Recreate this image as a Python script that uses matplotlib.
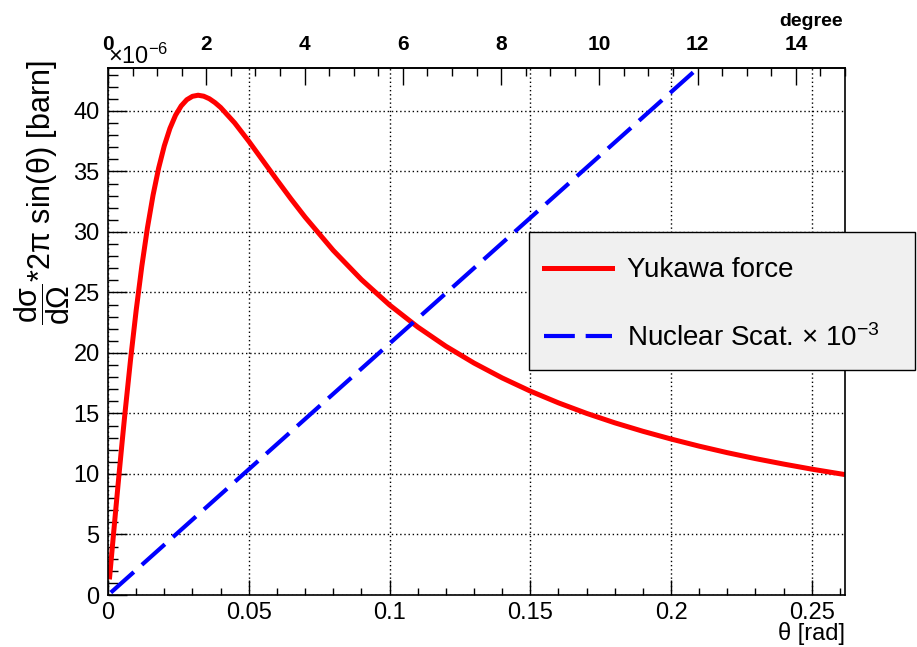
import numpy as np
import matplotlib
matplotlib.use('Agg')
import matplotlib.pyplot as plt
from matplotlib.patches import Rectangle
from matplotlib.lines import Line2D
from matplotlib.ticker import MultipleLocator

plt.rcParams['font.family'] = ['Liberation Sans', 'DejaVu Sans']
plt.rcParams['mathtext.fontset'] = 'custom'
plt.rcParams['mathtext.rm'] = 'Liberation Sans'
plt.rcParams['mathtext.it'] = 'Liberation Sans:italic'
plt.rcParams['mathtext.bf'] = 'Liberation Sans:bold'

# Datos (y en unidades de 1e-6 barn)
theta_yukawa = [0.0005, 0.001, 0.002, 0.003, 0.004, 0.005, 0.006, 0.008, 0.010,
                0.012, 0.014, 0.016, 0.018, 0.020, 0.022, 0.024, 0.026, 0.028,
                0.030, 0.032, 0.034, 0.036, 0.038, 0.040, 0.045, 0.050, 0.055,
                0.060, 0.065, 0.070, 0.080, 0.090, 0.100, 0.110, 0.120, 0.130,
                0.140, 0.150, 0.160, 0.170, 0.180, 0.190, 0.200, 0.210, 0.220,
                0.230, 0.240, 0.250, 0.2618]
yukawa = [1.29, 2.58, 5.14, 7.68, 10.17, 12.60, 14.96, 19.43, 23.51,
          27.15, 30.33, 33.04, 35.29, 37.12, 38.56, 39.65, 40.42, 40.93,
          41.21, 41.30, 41.22, 41.01, 40.69, 40.29, 39.01, 37.50, 35.90,
          34.30, 32.73, 31.23, 28.48, 26.07, 23.97, 22.15, 20.56, 19.17,
          17.94, 16.85, 15.88, 15.01, 14.23, 13.53, 12.89, 12.30, 11.76,
          11.27, 10.82, 10.40, 9.95]

theta_nuclear = [0.001, 0.2618]
nuclear = [0.2, 54.4]

x_ticks = [0, 0.05, 0.1, 0.15, 0.2, 0.25]
x_labels = ['0', '0.05', '0.1', '0.15', '0.2', '0.25']
y_ticks = [0, 5, 10, 15, 20, 25, 30, 35, 40]
deg_ticks = [0, 2, 4, 6, 8, 10, 12, 14]

W, H = 917, 647
fig = plt.figure(figsize=(W / 100, H / 100), dpi=100)
ax = fig.add_axes([108 / W, 1 - 595 / H, (845 - 108) / W, (595 - 68) / H])

ax.plot(theta_yukawa, yukawa, color='#ff0000', lw=3.6, solid_capstyle='butt')
ax.plot(theta_nuclear, nuclear, color='#0000ff', lw=3.0, linestyle=(0, (7.4, 2.6)))

ax.set_xlim(0, np.radians(15))
ax.set_ylim(0, 43.55)
ax.set_xticks(x_ticks)
ax.set_xticklabels(x_labels)
ax.set_yticks(y_ticks)
ax.xaxis.set_minor_locator(MultipleLocator(0.01))
ax.yaxis.set_minor_locator(MultipleLocator(1))
ax.grid(True, which='major', color='black', lw=1.0, linestyle=(0, (1, 2)))

ax.tick_params(axis='x', which='major', direction='in', length=11, width=1,
               labelsize=17, pad=5, top=False)
ax.tick_params(axis='x', which='minor', direction='in', length=5, width=1, top=False)
ax.tick_params(axis='y', which='major', direction='in', length=14, width=1,
               labelsize=17, pad=6, right=False)
ax.tick_params(axis='y', which='minor', direction='in', length=7, width=1, right=False)
for s in ax.spines.values():
    s.set_linewidth(1.2)

# eje de arriba en grados
sec = ax.secondary_xaxis('top', functions=(np.degrees, np.radians))
sec.set_xticks(deg_ticks)
sec.xaxis.set_minor_locator(MultipleLocator(0.5))
sec.tick_params(which='major', direction='in', length=12, width=1, labelsize=15, pad=10)
sec.tick_params(which='minor', direction='in', length=6, width=1)
for lab in sec.get_xticklabels():
    lab.set_fontweight('bold')
sec.spines['top'].set_linewidth(1.2)

fig.text(843 / W, 1 - 26 / H, 'degree', ha='right', va='baseline',
         fontsize=14, fontweight='bold')
fig.text(108 / W, 1 - 64 / H, r'×10$^{-6}$', ha='left', va='baseline', fontsize=17)
fig.text(845 / W, 1 - 640 / H, 'θ [rad]', ha='right', va='baseline', fontsize=17)

fig.text(42 / W, 1 - 60 / H,
         r'$\dfrac{\mathrm{d\sigma}}{\mathrm{d\Omega}}$*2π sin(θ) [barn]',
         rotation=90, ha='center', va='top', fontsize=22)

# leyenda
fig.patches.append(Rectangle((529 / W, 1 - 370 / H), (915 - 529) / W, (370 - 232) / H,
                             transform=fig.transFigure, facecolor='#f0f0f0',
                             edgecolor='black', lw=1.0, zorder=5))
fig.lines.append(Line2D([544 / W, 612 / W], [1 - 268 / H, 1 - 268 / H],
                        transform=fig.transFigure, color='#ff0000', lw=3.6, zorder=6))
fig.lines.append(Line2D([544 / W, 612 / W], [1 - 336 / H, 1 - 336 / H],
                        transform=fig.transFigure, color='#0000ff', lw=3.0,
                        linestyle=(0, (7.4, 2.6)), zorder=6))
fig.text(627 / W, 1 - 270 / H, 'Yukawa force', ha='left', va='center',
         fontsize=20, zorder=7)
fig.text(627 / W, 1 - 338 / H, r'Nuclear Scat. × 10$^{-3}$', ha='left', va='center',
         fontsize=20, zorder=7)

fig.savefig('out.png', dpi=100)
